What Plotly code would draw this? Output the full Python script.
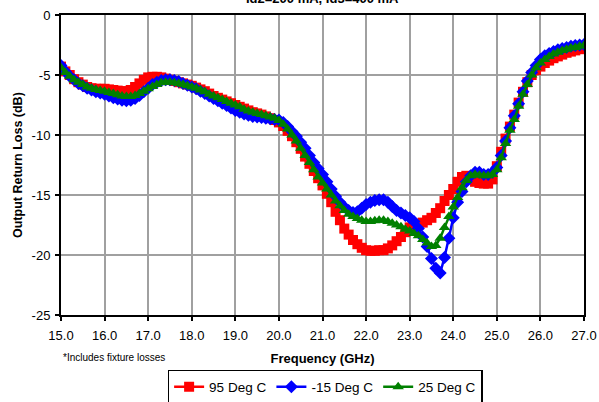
import plotly.graph_objects as go

freq = [round(15.0 + 0.1 * i, 1) for i in range(121)]

s95 = [-4.3, -4.7, -5.0, -5.35, -5.6, -5.8, -6.0, -6.1, -6.15, -6.15,
       -6.15, -6.2, -6.25, -6.3, -6.35, -6.35, -6.25, -6.0, -5.7, -5.4,
       -5.2, -5.15, -5.15, -5.2, -5.3, -5.4, -5.5, -5.6, -5.7, -5.8,
       -5.9, -6.05, -6.2, -6.35, -6.55, -6.75, -6.9, -7.05, -7.2, -7.35,
       -7.5, -7.65, -7.8, -7.95, -8.1, -8.2, -8.3, -8.45, -8.6, -8.75,
       -8.95, -9.25, -9.65, -10.1, -10.6, -11.15, -11.8, -12.4, -13.0, -13.6,
       -14.2, -14.9, -15.6, -16.4, -17.1, -17.8, -18.3, -18.75, -19.1, -19.4,
       -19.6, -19.65, -19.65, -19.6, -19.6, -19.45, -19.2, -18.85, -18.5, -18.1,
       -17.7, -17.5, -17.4, -17.3, -17.1, -16.9, -16.5, -16.1, -15.5, -15.0,
       -14.5, -13.9, -13.5, -13.4, -13.6, -13.9, -14.0, -14.05, -14.05, -13.7,
       -12.6, -11.4, -10.3, -9.3, -8.3, -7.3, -6.4, -5.6, -5.0, -4.6,
       -4.3, -4.0, -3.8, -3.6, -3.45, -3.3, -3.15, -3.05, -2.95, -2.85,
       -2.8]

sm15 = [-4.2, -4.7, -5.1, -5.4, -5.7, -5.9, -6.1, -6.25, -6.4, -6.5,
        -6.6, -6.75, -6.9, -7.0, -7.1, -7.15, -7.1, -6.95, -6.7, -6.4,
        -6.1, -5.8, -5.6, -5.45, -5.4, -5.4, -5.45, -5.55, -5.7, -5.85,
        -6.0, -6.15, -6.35, -6.55, -6.75, -6.95, -7.15, -7.35, -7.55, -7.75,
        -7.95, -8.1, -8.25, -8.35, -8.45, -8.5, -8.55, -8.6, -8.65, -8.7,
        -8.75, -8.95, -9.3, -9.7, -10.1, -10.6, -11.1, -11.7, -12.3, -12.8,
        -13.3, -13.9, -14.5, -15.1, -15.6, -16.0, -16.3, -16.45, -16.4, -16.1,
        -15.8, -15.6, -15.45, -15.4, -15.4, -15.6, -15.95, -16.3, -16.5, -16.7,
        -16.9, -17.2, -17.8, -18.5, -19.3, -20.3, -21.1, -21.5, -20.2, -18.6,
        -16.9, -15.6, -14.7, -13.9, -13.4, -13.1, -13.1, -13.3, -13.3, -13.1,
        -12.7, -11.7, -10.5, -9.4, -8.4, -7.4, -6.4, -5.5, -4.8, -4.2,
        -3.7, -3.4, -3.2, -3.05, -2.9, -2.8, -2.7, -2.6, -2.55, -2.5,
        -2.45]

s25 = [-4.4, -4.8, -5.1, -5.4, -5.6, -5.8, -6.0, -6.1, -6.2, -6.3,
       -6.35, -6.45, -6.55, -6.65, -6.75, -6.8, -6.8, -6.7, -6.55, -6.35,
       -6.15, -5.95, -5.8, -5.65, -5.6, -5.6, -5.65, -5.7, -5.8, -5.9,
       -6.0, -6.1, -6.25, -6.4, -6.6, -6.75, -6.9, -7.05, -7.2, -7.35,
       -7.5, -7.65, -7.85, -8.0, -8.1, -8.2, -8.3, -8.4, -8.5, -8.6,
       -8.8, -9.1, -9.5, -10.0, -10.5, -11.1, -11.7, -12.3, -12.9, -13.5,
       -14.0, -14.5, -15.0, -15.5, -15.9, -16.3, -16.6, -16.8, -16.95, -17.1,
       -17.2, -17.2, -17.15, -17.1, -17.1, -17.2, -17.35, -17.5, -17.65, -17.85,
       -18.0, -18.2, -18.4, -18.7, -19.0, -19.3, -19.2, -18.6, -17.7, -16.8,
       -16.0, -15.2, -14.4, -13.8, -13.4, -13.3, -13.35, -13.4, -13.4, -13.3,
       -12.9, -11.9, -10.7, -9.6, -8.7, -7.6, -6.6, -5.8, -5.0, -4.4,
       -4.0, -3.7, -3.45, -3.25, -3.1, -2.95, -2.85, -2.75, -2.7, -2.6,
       -2.55]

x_ticks = [15.0 + i for i in range(13)]
x_tick_labels = [f"{v:.1f}" for v in x_ticks]
y_ticks = [0, -5, -10, -15, -20, -25]
y_tick_labels = [str(v) for v in y_ticks]

series = [
    ("95 Deg C", s95, "#ff0000", "square"),
    ("-15 Deg C", sm15, "#0000ff", "diamond"),
    ("25 Deg C", s25, "#008000", "triangle-up"),
]

FONT = "Liberation Sans, Arial, sans-serif"

fig = go.Figure()
for name, vals, col, sym in series:
    fig.add_trace(go.Scatter(
        x=freq, y=vals, name=name, mode="lines+markers",
        line=dict(color=col, width=2.5),
        marker=dict(symbol=sym, size=10, color=col, line=dict(width=0)),
    ))

fig.update_layout(
    width=599, height=402,
    margin=dict(l=61, r=15, t=15, b=87, autoexpand=False),
    paper_bgcolor="white", plot_bgcolor="white",
    font=dict(family=FONT, size=13, color="black"),
    showlegend=True,
    legend=dict(
        orientation="h", x=0.505, xanchor="center", y=-0.183, yanchor="top",
        bordercolor="black", borderwidth=1.5, bgcolor="white",
        font=dict(family=FONT, size=13.5, color="black"),
        itemwidth=30, tracegroupgap=0,
    ),
    xaxis=dict(
        range=[15, 27], tickvals=x_ticks, ticktext=x_tick_labels,
        showgrid=True, gridcolor="#a0a0a0", gridwidth=2,
        showline=True, linecolor="black", linewidth=2, mirror=True,
        ticks="outside", ticklen=4, tickwidth=2, tickcolor="black",
        tickfont=dict(size=13), ticklabelstandoff=3,
        automargin=False,
        title=dict(text="<b>Frequency (GHz)</b>", font=dict(size=13), standoff=12),
        zeroline=False,
    ),
    yaxis=dict(
        range=[-25, 0], tickvals=y_ticks, ticktext=y_tick_labels,
        showgrid=True, gridcolor="#a0a0a0", gridwidth=1.5,
        showline=True, linecolor="black", linewidth=2, mirror=True,
        ticks="outside", ticklen=4, tickwidth=2, tickcolor="black",
        tickfont=dict(size=13), ticklabelstandoff=2,
        automargin=False,
        zeroline=False,
    ),
    annotations=[
        dict(text="<b>Id2=200 mA, Id3=400 mA</b>", xref="paper", yref="paper",
             x=0.5, y=1.023, xanchor="center", yanchor="bottom", showarrow=False,
             font=dict(size=13)),
        dict(text="<b>Output Return Loss (dB)</b>", xref="paper", yref="paper",
             x=-0.0822, y=0.5, xanchor="center", yanchor="middle", showarrow=False,
             textangle=-90, font=dict(size=12.5)),
        dict(text="*Includes fixture losses", xref="paper", yref="paper",
             x=0.0, y=-0.115, xanchor="left", yanchor="top", showarrow=False,
             font=dict(size=10)),
    ],
)

fig.write_html(
    "out.html",
    config={"displayModeBar": False},
    post_script="document.body.style.margin='0';document.body.style.overflow='hidden';",
)
